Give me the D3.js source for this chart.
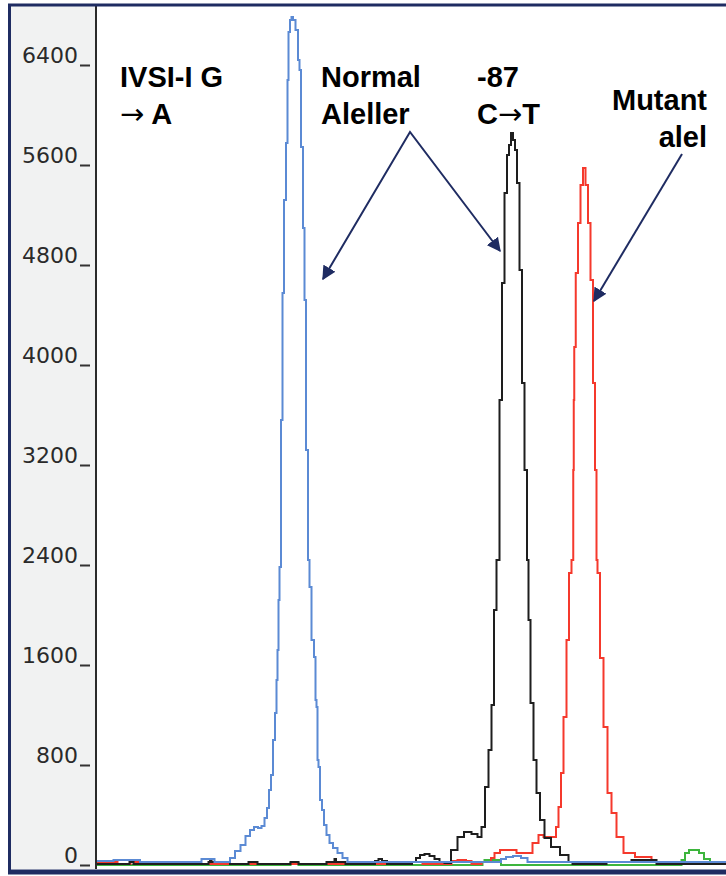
<!DOCTYPE html>
<html>
<head>
<meta charset="utf-8">
<script src="https://cdnjs.cloudflare.com/ajax/libs/d3/7.8.5/d3.min.js"></script>
<style>
  body { margin: 0; background: #fff; }
  svg { display: block; }
</style>
</head>
<body>
<svg width="726" height="876"></svg>
<script>
// y axis ticks (RFU)
var yTicks = [0, 800, 1600, 2400, 3200, 4000, 4800, 5600, 6400];

// traces as [scan, rfu] pairs
var greenTrace = [[0,0],[193,0],[194,16],[201,16],[202,0],[385,0],[386,24],[389,40],[403,40],[405,0],
  [583,0],[586,40],[590,96],[594,120],[600,120],[604,96],[610,48],[616,16],[620,8],[629,8]];

var redTrace = [[0,24],[20,24],[21,8],[33,8],[34,24],[45,24],[46,8],[313,8],[314,24],[325,24],[326,8],
  [353,8],[356,32],[365,40],[373,32],[376,8],[393,24],[395,56],[400,96],[406,120],[416,120],[423,96],
  [431,96],[440,176],[443,240],[450,224],[458,224],[460,304],[463,464],[465,736],[468,1184],[471,1800],
  [473,2336],[476,2440],[476.5,3160],[477,3720],[477.5,4144],[480,4736],[482,5136],[485,5440],[487,5576],
  [490,5440],[492,5136],[495,4680],[497,3856],[499,3160],[500,2440],[501,2336],[505,1656],[508,1104],
  [513,576],[516,416],[523,224],[530,96],[546,64],[563,24],[564,8],[567,24],[578,24],[579,8],[629,8]];

var blackTrace = [[0,8],[32,8],[33,24],[36,24],[37,8],[111,8],[112,24],[114,40],[115,24],[151,8],[152,24],
  [160,24],[161,8],[193,8],[194,24],[201,24],[202,8],[229,8],[230,24],[237,24],[238,48],[240,24],[248,24],
  [249,8],[276,8],[280,32],[283,48],[287,32],[293,8],[313,8],[317,24],[321,56],[325,80],[330,88],[335,72],
  [340,48],[345,24],[350,16],[358,120],[363,224],[371,264],[378,248],[383,224],[386,304],[390,624],
  [393,920],[396,1280],[398,2040],[401,2440],[404,3720],[406,4656],[409,5376],[411,5680],[413,5760],
  [415,5856],[417,5800],[419,5720],[421,5456],[424,4760],[426,3856],[429,3160],[431,2440],[432,1960],
  [435,1296],[438,840],[441,576],[445,360],[450,216],[458,144],[468,80],[475,24],[476,8],[509,8],[510,24],
  [533,24],[536,40],[558,40],[561,8],[629,8]];

var blueTrace = [[0,32],[33,40],[53,24],[103,24],[106,48],[116,48],[119,24],[131,24],[135,56],[141,112],
  [146,160],[151,232],[155,280],[159,304],[163,296],[166,312],[169,376],[171,456],[173,600],[175,720],
  [177,1000],[179,1216],[180,1480],[181,1720],[182,2120],[183,2384],[185,3560],[186,4576],[188,5320],
  [190,5776],[191,6280],[192,6664],[194,6760],[195,6784],[197,6760],[200,6680],[202,6440],[203,6360],
  [205,5744],[207,5096],[208,4520],[210,3320],[212,2440],[213,2224],[216,1800],[218,1664],[219,1320],
  [220,1264],[221,840],[222,784],[224,520],[226,440],[228,320],[231,240],[234,176],[238,136],[243,96],
  [248,56],[253,24],[402,24],[406,48],[412,64],[420,72],[428,56],[433,24],[629,24]];

// each line is a list of [text, isArrow] pieces
var labels = [
  {lines: [[["IVSI-I G"]], [["\u2192", 1], [" A"]]], x: 120, y: 87, anchor: "start"},
  {lines: [[["Normal"]], [["Aleller"]]], x: 321, y: 87, anchor: "start"},
  {lines: [[["-87"]], [["C"], ["\u2192", 1], ["T"]]], x: 477, y: 87, anchor: "start"},
  {lines: [[["Mutant"]], [["alel"]]], x: 707, y: 110, anchor: "end"}
];

var navy = "#1f2c62";
var svg = d3.select("svg");

var x = d3.scaleLinear().domain([0, 629]).range([97, 726]);
var y = d3.scaleLinear().domain([0, 6400]).range([865, 65]);

// frame
svg.append("rect").attr("x", 10).attr("y", 6).attr("width", 86).attr("height", 863).attr("fill", "#f1f2f2");
svg.append("rect").attr("x", 97).attr("y", 6).attr("width", 629).attr("height", 863).attr("fill", "#fff");
svg.append("line").attr("x1", 96).attr("x2", 96).attr("y1", 6).attr("y2", 869)
  .attr("stroke", "#2b2b2b").attr("stroke-width", 2);
svg.append("line").attr("x1", 8).attr("x2", 726).attr("y1", 5).attr("y2", 5)
  .attr("stroke", navy).attr("stroke-width", 3);
svg.append("line").attr("x1", 9.5).attr("x2", 9.5).attr("y1", 4).attr("y2", 874)
  .attr("stroke", navy).attr("stroke-width", 3);
svg.append("line").attr("x1", 8).attr("x2", 726).attr("y1", 872).attr("y2", 872)
  .attr("stroke", navy).attr("stroke-width", 5);

// y axis, labels sit on the little tick like "6400_"
var yAxis = d3.axisLeft(y).tickValues(yTicks).tickSize(10).tickPadding(2).tickFormat(d3.format("d"));
var ag = svg.append("g").attr("transform", "translate(90,0)").call(yAxis);
ag.select(".domain").remove();
ag.selectAll(".tick line").attr("stroke", "#333").attr("stroke-width", 2);
ag.selectAll(".tick text")
  .attr("y", -3).attr("dy", 0)
  .attr("fill", "#2a2a2a")
  .style("font-family", "DejaVu Sans, Verdana, sans-serif")
  .style("font-size", "22px");

// traces
svg.append("clipPath").attr("id", "plot").append("rect")
  .attr("x", 97).attr("y", 6).attr("width", 629).attr("height", 863);

var line = d3.line()
  .x(function(d) { return x(d[0]); })
  .y(function(d) { return y(d[1]); })
  .curve(d3.curveStep);

var traces = [
  {data: greenTrace, color: "#3db53d"},
  {data: redTrace, color: "#f5392c"},
  {data: blackTrace, color: "#1e1e1e"},
  {data: blueTrace, color: "#5b8ad4"}
];

svg.append("g").attr("clip-path", "url(#plot)")
  .selectAll("path").data(traces).enter()
  .append("path")
  .attr("d", function(d) { return line(d.data); })
  .attr("fill", "none")
  .attr("stroke", function(d) { return d.color; })
  .attr("stroke-width", 2);

// annotation text
labels.forEach(function(l) {
  l.lines.forEach(function(parts, i) {
    var t = svg.append("text")
      .attr("x", l.x).attr("y", l.y + i * 37)
      .attr("text-anchor", l.anchor)
      .style("font-family", "Liberation Sans, Arial, sans-serif")
      .style("font-weight", "bold")
      .style("font-size", "29px")
      .attr("fill", "#000");
    parts.forEach(function(p) {
      var s = t.append("tspan").text(p[0]);
      if (p[1]) s.style("font-family", "DejaVu Sans, sans-serif").style("font-weight", "normal");
    });
  });
});

// pointer arrows
var defs = svg.append("defs");
defs.append("marker").attr("id", "head")
  .attr("viewBox", "0 0 10 10").attr("refX", 9).attr("refY", 5)
  .attr("markerWidth", 7).attr("markerHeight", 7).attr("orient", "auto-start-reverse")
  .attr("markerUnits", "strokeWidth")
  .append("path").attr("d", "M0,0L10,5L0,10z").attr("fill", navy);

svg.append("polyline")
  .attr("points", "323,279 410,132 500,251")
  .attr("fill", "none").attr("stroke", navy).attr("stroke-width", 2)
  .attr("marker-start", "url(#head)").attr("marker-end", "url(#head)");

svg.append("line")
  .attr("x1", 682).attr("y1", 154).attr("x2", 594).attr("y2", 301)
  .attr("stroke", navy).attr("stroke-width", 2)
  .attr("marker-end", "url(#head)");
</script>
</body>
</html>
